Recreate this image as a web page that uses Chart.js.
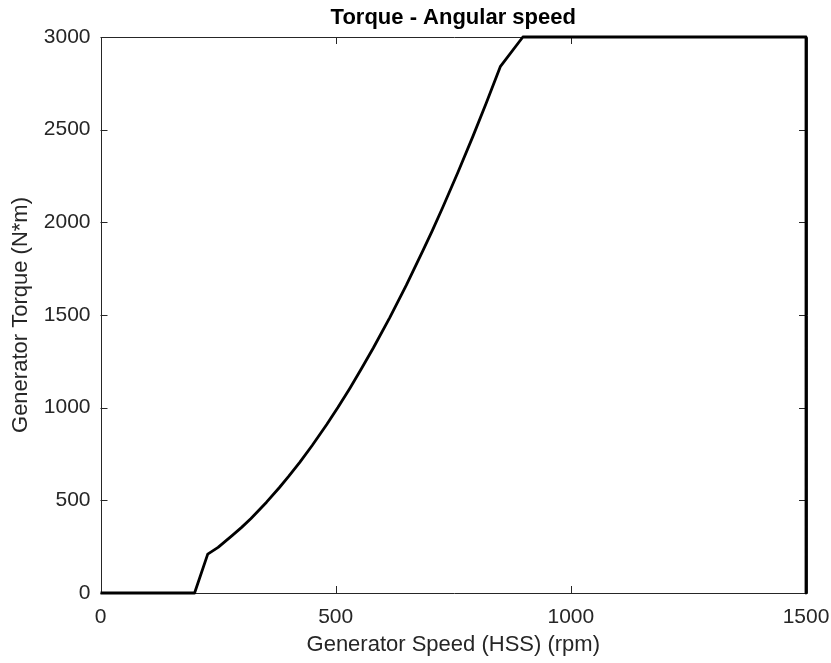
<!DOCTYPE html>
<html>
<head>
<meta charset="utf-8">
<script src="https://cdn.jsdelivr.net/npm/chart.js@4/dist/chart.umd.min.js"></script>
<style>
html,body{margin:0;padding:0;background:#fff;}
#wrap{width:831px;height:663px;position:relative;}
</style>
</head>
<body>
<div id="wrap"><canvas id="c" width="831" height="663"></canvas></div>
<script>
const titleText = 'Torque - Angular speed';
const xTitle = 'Generator Speed (HSS) (rpm)';
const yTitle = 'Generator Torque (N*m)';
const xTicks = [0, 500, 1000, 1500];
const yTicks = [0, 500, 1000, 1500, 2000, 2500, 3000];
const speed  = [0, 200, 228, 250, 281, 300, 320, 353, 380, 400, 424, 450, 481, 505, 530, 555, 580, 615, 650, 686, 705, 728, 760, 792, 820, 850, 898, 1500, 1500];
const torque = [0, 0, 210, 246, 312, 354, 402, 490, 568, 629, 706, 796, 909, 1002, 1104, 1211, 1322, 1486, 1660, 1850, 1953, 2083, 2270, 2465, 2643, 2840, 3000, 3000, 0];

const points = speed.map((s, i) => ({x: s, y: torque[i]}));
const AX = '#262626';
const FONT = "'Liberation Sans', Arial, Helvetica, sans-serif";

const boxPlugin = {
  id: 'box',
  beforeDatasetsDraw(chart) {
    const {ctx, chartArea: a, scales: {x, y}} = chart;
    ctx.save();
    ctx.strokeStyle = AX;
    ctx.lineWidth = 1;
    ctx.beginPath();
    ctx.rect(Math.round(a.left) + 0.5, Math.round(a.top) + 0.5, Math.round(a.right - a.left), Math.round(a.bottom - a.top));
    ctx.stroke();
    const L = 7;
    ctx.beginPath();
    xTicks.forEach(v => {
      const px = Math.round(x.getPixelForValue(v)) + 0.5;
      ctx.moveTo(px, a.bottom); ctx.lineTo(px, a.bottom - L);
      ctx.moveTo(px, a.top); ctx.lineTo(px, a.top + L);
    });
    yTicks.forEach(v => {
      const py = Math.round(y.getPixelForValue(v)) + 0.5;
      ctx.moveTo(a.left, py); ctx.lineTo(a.left + L, py);
      ctx.moveTo(a.right, py); ctx.lineTo(a.right - L, py);
    });
    ctx.stroke();
    ctx.restore();
  }
};

new Chart(document.getElementById('c'), {
  type: 'scatter',
  data: {
    datasets: [{
      data: points,
      showLine: true,
      borderColor: '#000',
      borderWidth: 2.8,
      borderJoinStyle: 'round',
      pointRadius: 0,
      tension: 0,
      fill: false,
      clip: false
    }]
  },
  options: {
    responsive: false,
    animation: false,
    devicePixelRatio: 1,
    layout: {padding: {left: 0, right: 25, top: 0, bottom: 0}},
    plugins: {
      legend: {display: false},
      tooltip: {enabled: false},
      title: {
        display: true,
        fullSize: false,
        text: titleText,
        color: '#000',
        font: {family: FONT, size: 22, weight: 'bold'},
        padding: {top: 5, bottom: 5.6}
      }
    },
    scales: {
      x: {
        type: 'linear',
        min: 0, max: 1500,
        afterBuildTicks(s) { s.ticks = xTicks.map(v => ({value: v})); },
        afterFit(s) { s.height = 70; s.paddingLeft = 0; s.paddingRight = 0; },
        grid: {display: false, drawTicks: false},
        border: {display: false},
        ticks: {color: AX, font: {family: FONT, size: 21}, padding: 12, maxRotation: 0, callback: v => String(v)},
        title: {display: true, text: xTitle, color: AX, font: {family: FONT, size: 22}, padding: {top: 0, bottom: 5}}
      },
      y: {
        type: 'linear',
        min: 0, max: 3000,
        afterBuildTicks(s) { s.ticks = yTicks.map(v => ({value: v})); },
        afterFit(s) { s.width = 100.5; s.paddingTop = 0; s.paddingBottom = 0; },
        grid: {display: false, drawTicks: false},
        border: {display: false},
        ticks: {color: AX, font: {family: FONT, size: 21}, padding: 10, callback: v => String(v)},
        title: {display: true, text: yTitle, color: AX, font: {family: FONT, size: 22}, padding: {top: 8, bottom: 0}}
      }
    }
  },
  plugins: [boxPlugin]
});
</script>
</body>
</html>
